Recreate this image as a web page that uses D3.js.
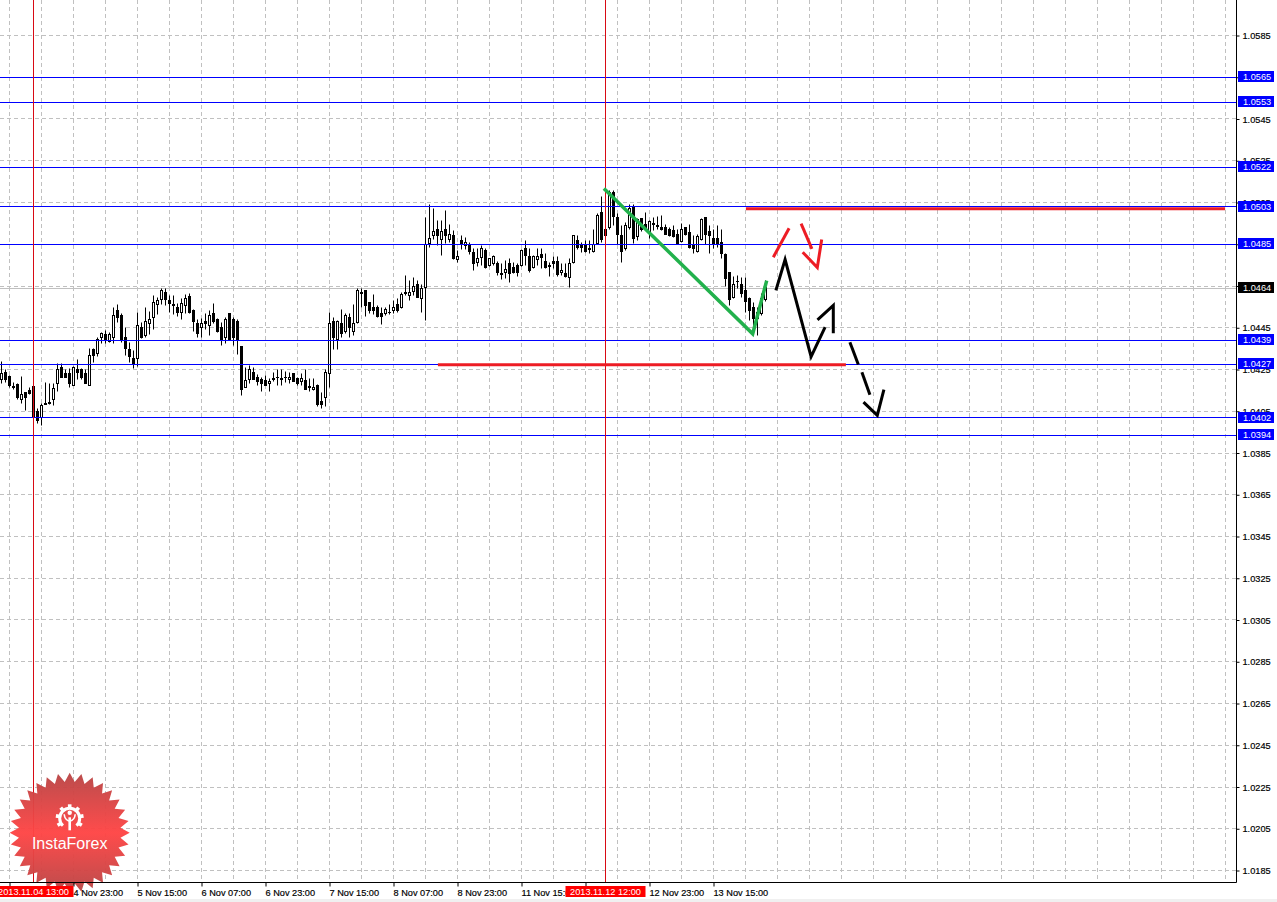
<!DOCTYPE html>
<html>
<head>
<meta charset="utf-8">
<title>InstaForex chart</title>
<script src="https://cdn.jsdelivr.net/npm/d3@7"></script>
<style>
html,body{margin:0;padding:0;background:#fff;overflow:hidden}
svg{display:block}
text{font-family:"Liberation Sans",Arial,sans-serif;font-size:9.2px}
.tick text{stroke:#000;stroke-width:.18px}
</style>
</head>
<body>
<svg id="c" width="1277" height="902"></svg>
<script>
// Hourly candles, values
const opens=[1.04203,1.04238,1.04216,1.04168,1.04178,1.04104,1.04138,1.04149,1.04168,1.04048,
1.04018,1.04087,1.04093,1.04104,1.04184,1.04258,1.04229,1.04229,1.04175,1.04248,
1.04248,1.04229,1.04175,1.04344,1.04325,1.04405,1.04417,1.04385,1.04405,1.04535,
1.04507,1.04405,1.04344,1.04305,1.04305,1.04449,1.04412,1.04468,1.04497,1.04561,
1.04587,1.04617,1.04580,1.04563,1.04548,1.04524,1.04558,1.04599,1.04535,1.04468,
1.04449,1.04478,1.04459,1.04516,1.04488,1.04449,1.04405,1.04516,1.04488,1.04478,
1.04360,1.04165,1.04203,1.04238,1.04213,1.04203,1.04197,1.04184,1.04206,1.04214,
1.04206,1.04214,1.04203,1.04229,1.04205,1.04194,1.04197,1.04168,1.04155,1.04175,
1.04095,1.04117,1.04229,1.04478,1.04395,1.04468,1.04433,1.04497,1.04433,1.04476,
1.04620,1.04628,1.04571,1.04545,1.04545,1.04516,1.04516,1.04524,1.04532,1.04561,
1.04545,1.04617,1.04604,1.04625,1.04657,1.04588,1.04644,1.04855,1.04890,1.04919,
1.04871,1.04919,1.04871,1.04890,1.04778,1.04868,1.04845,1.04848,1.04810,1.04764,
1.04788,1.04820,1.04746,1.04756,1.04756,1.04709,1.04717,1.04756,1.04737,1.04746,
1.04746,1.04829,1.04791,1.04737,1.04778,1.04800,1.04765,1.04748,1.04765,1.04765,
1.04716,1.04708,1.04689,1.04764,1.04868,1.04848,1.04848,1.04829,1.04816,1.04852,
1.05002,1.04890,1.04928,1.05098,1.04979,1.04891,1.04828,1.04928,1.05027,1.04887,
1.04971,1.04944,1.04907,1.04949,1.04938,1.04931,1.04928,1.04919,1.04915,1.04899,
1.04864,1.04928,1.04907,1.04848,1.04816,1.04871,1.04976,1.04912,1.04876,1.04876,
1.04856,1.04800,1.04716,1.04593,1.04673,1.04657,1.04628,1.04588,1.04548,1.04524,
1.04516,1.04583];
const highs=[1.04288,1.04248,1.04221,1.04189,1.04181,1.04216,1.04138,1.04162,1.04168,1.04061,
1.04088,1.04189,1.04181,1.04184,1.04277,1.04277,1.04248,1.04253,1.04264,1.04296,
1.04253,1.04248,1.04349,1.04349,1.04401,1.04428,1.04436,1.04428,1.04545,1.04561,
1.04516,1.04452,1.04381,1.04341,1.04524,1.04476,1.04545,1.04529,1.04604,1.04593,
1.04636,1.04636,1.04604,1.04604,1.04564,1.04588,1.04609,1.04615,1.04539,1.04488,
1.04492,1.04516,1.04535,1.04567,1.04492,1.04476,1.04497,1.04516,1.04497,1.04488,
1.04360,1.04258,1.04269,1.04258,1.04226,1.04213,1.04221,1.04205,1.04237,1.04248,
1.04248,1.04242,1.04237,1.04232,1.04210,1.04229,1.04248,1.04205,1.04205,1.04178,
1.04141,1.04248,1.04524,1.04497,1.04484,1.04536,1.04516,1.04516,1.04561,1.04636,
1.04636,1.04628,1.04571,1.04609,1.04556,1.04545,1.04545,1.04561,1.04580,1.04588,
1.04619,1.04700,1.04676,1.04689,1.04676,1.04657,1.04979,1.05040,1.05021,1.04963,
1.04963,1.05011,1.04944,1.04915,1.04820,1.04890,1.04884,1.04860,1.04828,1.04828,
1.04844,1.04828,1.04783,1.04794,1.04769,1.04756,1.04772,1.04780,1.04764,1.04756,
1.04823,1.04868,1.04828,1.04796,1.04828,1.04828,1.04807,1.04764,1.04791,1.04791,
1.04756,1.04756,1.04780,1.04890,1.04890,1.04860,1.04868,1.04868,1.04919,1.04995,
1.05078,1.05088,1.05107,1.05107,1.04995,1.04939,1.04955,1.05040,1.05040,1.04971,
1.04971,1.05002,1.04963,1.04976,1.04983,1.04987,1.04947,1.04931,1.04939,1.04923,
1.04951,1.04931,1.04944,1.04891,1.04899,1.04971,1.04976,1.04939,1.04919,1.04939,
1.04919,1.04807,1.04716,1.04695,1.04700,1.04692,1.04692,1.04596,1.04572,1.04548,
1.04612,1.04676];
const lows=[1.04184,1.04189,1.04165,1.04152,1.04104,1.04088,1.04053,1.04130,1.03981,1.03992,
1.03981,1.04082,1.04082,1.04077,1.04146,1.04210,1.04210,1.04165,1.04171,1.04203,
1.04203,1.04181,1.04171,1.04285,1.04312,1.04376,1.04373,1.04381,1.04376,1.04476,
1.04381,1.04317,1.04285,1.04256,1.04264,1.04397,1.04405,1.04420,1.04444,1.04513,
1.04561,1.04556,1.04523,1.04513,1.04504,1.04488,1.04516,1.04516,1.04433,1.04405,
1.04405,1.04444,1.04412,1.04468,1.04428,1.04365,1.04376,1.04389,1.04365,1.04321,
1.04125,1.04162,1.04181,1.04200,1.04171,1.04144,1.04171,1.04144,1.04194,1.04173,
1.04173,1.04189,1.04184,1.04191,1.04173,1.04173,1.04152,1.04146,1.04149,1.04072,
1.04061,1.04072,1.04162,1.04344,1.04344,1.04405,1.04421,1.04405,1.04413,1.04472,
1.04548,1.04504,1.04516,1.04513,1.04497,1.04465,1.04507,1.04513,1.04520,1.04523,
1.04540,1.04604,1.04580,1.04604,1.04593,1.04524,1.04484,1.04836,1.04871,1.04844,
1.04796,1.04852,1.04860,1.04775,1.04764,1.04823,1.04823,1.04800,1.04724,1.04743,
1.04748,1.04732,1.04743,1.04748,1.04700,1.04679,1.04684,1.04668,1.04708,1.04695,
1.04743,1.04748,1.04716,1.04732,1.04748,1.04732,1.04732,1.04695,1.04732,1.04695,
1.04700,1.04692,1.04644,1.04756,1.04823,1.04812,1.04812,1.04807,1.04812,1.04848,
1.04860,1.04884,1.04923,1.04939,1.04848,1.04764,1.04820,1.04923,1.04855,1.04868,
1.04912,1.04915,1.04876,1.04915,1.04923,1.04915,1.04896,1.04887,1.04884,1.04852,
1.04860,1.04891,1.04828,1.04807,1.04812,1.04868,1.04848,1.04807,1.04828,1.04836,
1.04784,1.04647,1.04556,1.04588,1.04636,1.04596,1.04524,1.04484,1.04428,1.04412,
1.04508,1.04577];
const closes=[1.04229,1.04203,1.04175,1.04163,1.04117,1.04128,1.04117,1.04136,1.04018,1.04008,
1.04077,1.04082,1.04088,1.04157,1.04248,1.04213,1.04213,1.04184,1.04258,1.04237,
1.04213,1.04184,1.04315,1.04315,1.04395,1.04424,1.04395,1.04417,1.04507,1.04497,
1.04392,1.04349,1.04312,1.04274,1.04459,1.04405,1.04478,1.04488,1.04569,1.04580,
1.04628,1.04587,1.04567,1.04558,1.04523,1.04567,1.04588,1.04523,1.04478,1.04424,
1.04468,1.04468,1.04507,1.04478,1.04433,1.04395,1.04488,1.04395,1.04405,1.04395,
1.04155,1.04197,1.04248,1.04203,1.04194,1.04184,1.04175,1.04194,1.04202,1.04211,
1.04202,1.04211,1.04213,1.04194,1.04184,1.04205,1.04155,1.04163,1.04165,1.04082,
1.04082,1.04238,1.04468,1.04405,1.04478,1.04424,1.04507,1.04449,1.04468,1.04628,
1.04615,1.04556,1.04532,1.04532,1.04504,1.04504,1.04536,1.04521,1.04545,1.04532,
1.04609,1.04614,1.04619,1.04647,1.04596,1.04636,1.04847,1.04876,1.04909,1.04890,
1.04909,1.04890,1.04899,1.04784,1.04791,1.04855,1.04858,1.04816,1.04756,1.04780,
1.04829,1.04737,1.04780,1.04791,1.04714,1.04706,1.04727,1.04708,1.04716,1.04716,
1.04820,1.04796,1.04724,1.04791,1.04791,1.04788,1.04737,1.04745,1.04756,1.04705,
1.04724,1.04695,1.04756,1.04890,1.04836,1.04836,1.04816,1.04826,1.04848,1.04987,
1.04871,1.04919,1.05098,1.04983,1.04899,1.04816,1.04939,1.05019,1.04876,1.04967,
1.04919,1.04931,1.04957,1.04946,1.04935,1.04919,1.04899,1.04891,1.04887,1.04855,
1.04919,1.04896,1.04836,1.04828,1.04887,1.04967,1.04899,1.04891,1.04848,1.04848,
1.04804,1.04684,1.04583,1.04657,1.04670,1.04615,1.04577,1.04532,1.04492,1.04492,
1.04588,1.04641];

const priceTicks=[1.0585,1.0565,1.0545,1.0525,1.0505,1.0485,1.0465,1.0445,1.0425,1.0405,1.0385,1.0365,1.0345,1.0325,1.0305,1.0285,1.0265,1.0245,1.0225,1.0205,1.0185];
const levels=[1.0565,1.0553,1.0522,1.0503,1.0485,1.0439,1.04275,1.0402,1.03935];
const levelLabels=["1.0565","1.0553","1.0522","1.0503","1.0485","1.0439","1.0427","1.0402","1.0394"];
const lastPrice=1.0464;
const timeTickBars=[2,18,34,50,66,82,98,114,130,146,162,178];
const timeLabels=["4 Nov 07:00","4 Nov 23:00","5 Nov 15:00","6 Nov 07:00","6 Nov 23:00","7 Nov 15:00","8 Nov 07:00","8 Nov 23:00","11 Nov 15:00","12 Nov 07:00","12 Nov 23:00","13 Nov 15:00"];
const crossBars=[8,151];
const crossLabels=["2013.11.04 13:00","2013.11.12 12:00"];
// Hand-drawn forecast strokes as [bar, price]
const greenStroke=[[150.6,1.05117],[187.8,1.04421],[191.3,1.04676]];
const redLevelTop=[[186.1,1.0502],[305.9,1.0502]];
const redLevelLow=[[109.1,1.04273],[211.1,1.04273]];
const redStrokes=[[[192.95,1.04788],[196.9,1.04927]],[[199.9,1.04949],[202.6,1.04828]],[[200.3,1.04812],[203.95,1.04739],[205.05,1.04873]]];
const blackStrokes=[[[193.6,1.04629],[195.9,1.04777],[202.4,1.04312],[205.9,1.04453]],[[204,1.04488],[207.95,1.04557],[207.95,1.04424]],[[212.1,1.04381],[214.2,1.04274]],[[215.1,1.04237],[217.1,1.04129]],[[215.5,1.04094],[218.95,1.0403],[220.6,1.04154]]];

const W=1277,H=902,plotR=1236.5,plotB=882.5;
const x=d3.scaleLinear().domain([0,191]).range([1.5,765.5]);
const y=d3.scaleLinear().domain([1.0585,1.0185]).range([35.5,870.5]);
const sy=v=>Math.round(y(v)-.5)+.5;
const svg=d3.select("#c");

// bottom strip
svg.append("rect").attr("x",0).attr("y",899).attr("width",W).attr("height",3).attr("fill","#f0f0f0");

// grid
const gridC="#c0c0c0",dash="4 3";
const g=svg.append("g").attr("fill","none").attr("stroke",gridC).attr("stroke-dasharray",dash);
g.selectAll(".h").data(priceTicks).join("line").attr("x1",0).attr("x2",plotR).attr("y1",sy).attr("y2",sy);
g.selectAll(".v").data(d3.range(2,310,8)).join("line").attr("x1",x).attr("x2",x).attr("y1",0).attr("y2",plotB);

// last price line
svg.append("line").attr("x1",0).attr("x2",plotR).attr("y1",sy(lastPrice)).attr("y2",sy(lastPrice)).attr("stroke","#c0c0c0");

// candles
const cg=svg.append("g");
opens.forEach((o,i)=>{
  const c=closes[i],cx=x(i);
  cg.append("line").attr("x1",cx).attr("x2",cx).attr("y1",sy(highs[i])).attr("y2",sy(lows[i])).attr("stroke","#000");
  const t=sy(Math.max(o,c)),b=sy(Math.min(o,c));
  cg.append("rect").attr("x",cx-1).attr("width",2).attr("y",t).attr("height",Math.max(b-t,.01))
    .attr("fill",c>=o?"#fff":"#000").attr("stroke","#000");
});

// horizontal blue levels
svg.append("g").selectAll("line").data(levels).join("line")
  .attr("x1",0).attr("x2",plotR).attr("y1",sy).attr("y2",sy).attr("stroke","#0000ff");

// crosshair verticals
svg.append("g").selectAll("line").data(crossBars).join("line")
  .attr("x1",x).attr("x2",x).attr("y1",0).attr("y2",plotB).attr("stroke","#d80a14");

// forecast strokes
const ln=d3.line().x(d=>x(d[0])).y(d=>y(d[1]));
const stroke=(d,col,w)=>svg.append("path").attr("d",ln(d)).attr("fill","none").attr("stroke",col).attr("stroke-width",w).attr("stroke-linejoin","miter");
stroke(redLevelTop,"#ed1c24",3);
stroke(redLevelLow,"#ed1c24",3);
stroke(greenStroke,"#22b14c",3.5);
redStrokes.forEach(d=>stroke(d,"#ed1c24",3));
blackStrokes.forEach(d=>stroke(d,"#000",3));

// logo
const logo=svg.append("g").attr("transform","translate(69.7,832.8)");
const defs=svg.append("defs");
const grad=defs.append("linearGradient").attr("id","lg").attr("x1",0).attr("x2",0).attr("y1",0).attr("y2",1);
[[0,"#b84545"],[.5,"#ff4444"],[1,"#b84545"]].forEach(s=>grad.append("stop").attr("offset",s[0]).attr("stop-color",s[1]));
const teeth=32,starPts=[];
for(let i=0;i<teeth*2;i++)starPts.push([i*Math.PI/teeth,i%2?51:60]);
logo.append("path").attr("d",d3.lineRadial().curve(d3.curveLinearClosed)(starPts)).attr("fill","url(#lg)").attr("opacity",.96);
const gear=logo.append("g").attr("transform","translate(0,-14.5)").attr("fill","#fff");
gear.append("path").attr("d",d3.arc().innerRadius(8.5).outerRadius(11.5).startAngle(-2.4).endAngle(2.4)());
d3.range(-120,121,40).forEach(a=>gear.append("rect").attr("x",-1.8).attr("y",-14).attr("width",3.6).attr("height",4).attr("transform",`rotate(${a})`));
gear.append("circle").attr("cy",-5.5).attr("r",2.2);
gear.append("rect").attr("x",-1.3).attr("y",-1).attr("width",2.6).attr("height",13);
gear.append("path").attr("d","M-5.5,-4 Q-5,2 0,3 Q5,2 5.5,-4").attr("fill","none").attr("stroke","#fff").attr("stroke-width",1.6);
logo.append("text").attr("y",16.5).attr("text-anchor","middle").attr("fill","#fff").style("font-size","16px").text("InstaForex");

// price axis
const yAxis=d3.axisRight(y).tickValues(priceTicks).tickSize(3).tickPadding(3).tickFormat(d3.format(".4f"));
const ya=svg.append("g").attr("transform",`translate(${plotR},0)`).call(yAxis);
ya.select(".domain").attr("d",`M0,0V${plotB}`).attr("stroke","#000");
ya.selectAll("text").attr("fill","#000").attr("dy","0.35em");
ya.selectAll("line").attr("stroke","#000");

// time axis
const tickIdx=new Map(timeTickBars.map((b,i)=>[b,timeLabels[i]]));
const xAxis=d3.axisBottom(x).tickValues(timeTickBars).tickSize(4).tickPadding(3).tickFormat(d=>tickIdx.get(d));
const xa=svg.append("g").attr("transform",`translate(0,${plotB})`).call(xAxis);
xa.select(".domain").attr("d",`M0,0H${plotR}`).attr("stroke","#000");
xa.selectAll("line").attr("stroke","#000");
xa.selectAll("text").attr("text-anchor","start").attr("fill","#000").attr("dx","-0.5").attr("dy","0.75em");

// level badges
const badge=(v,label,col)=>{
  const cy=y(v),b=svg.append("g");
  b.append("rect").attr("x",plotR+1.5).attr("y",Math.round(cy)-6).attr("width",36).attr("height",11).attr("fill",col);
  b.append("text").attr("x",plotR+6.5).attr("y",Math.round(cy)+3).attr("fill","#fff").text(label);
};
levels.forEach((v,i)=>badge(v,levelLabels[i],"#0000ff"));
badge(lastPrice,d3.format(".4f")(lastPrice),"#000");

// crosshair time labels
crossBars.forEach((b,i)=>{
  const cx=x(b),r=svg.append("g");
  r.append("rect").attr("x",cx-40).attr("y",886).attr("width",80).attr("height",11).attr("fill","#ff0000");
  r.append("text").attr("x",cx).attr("y",895).attr("text-anchor","middle").attr("fill","#fff").text(crossLabels[i]);
});
</script>
</body>
</html>
